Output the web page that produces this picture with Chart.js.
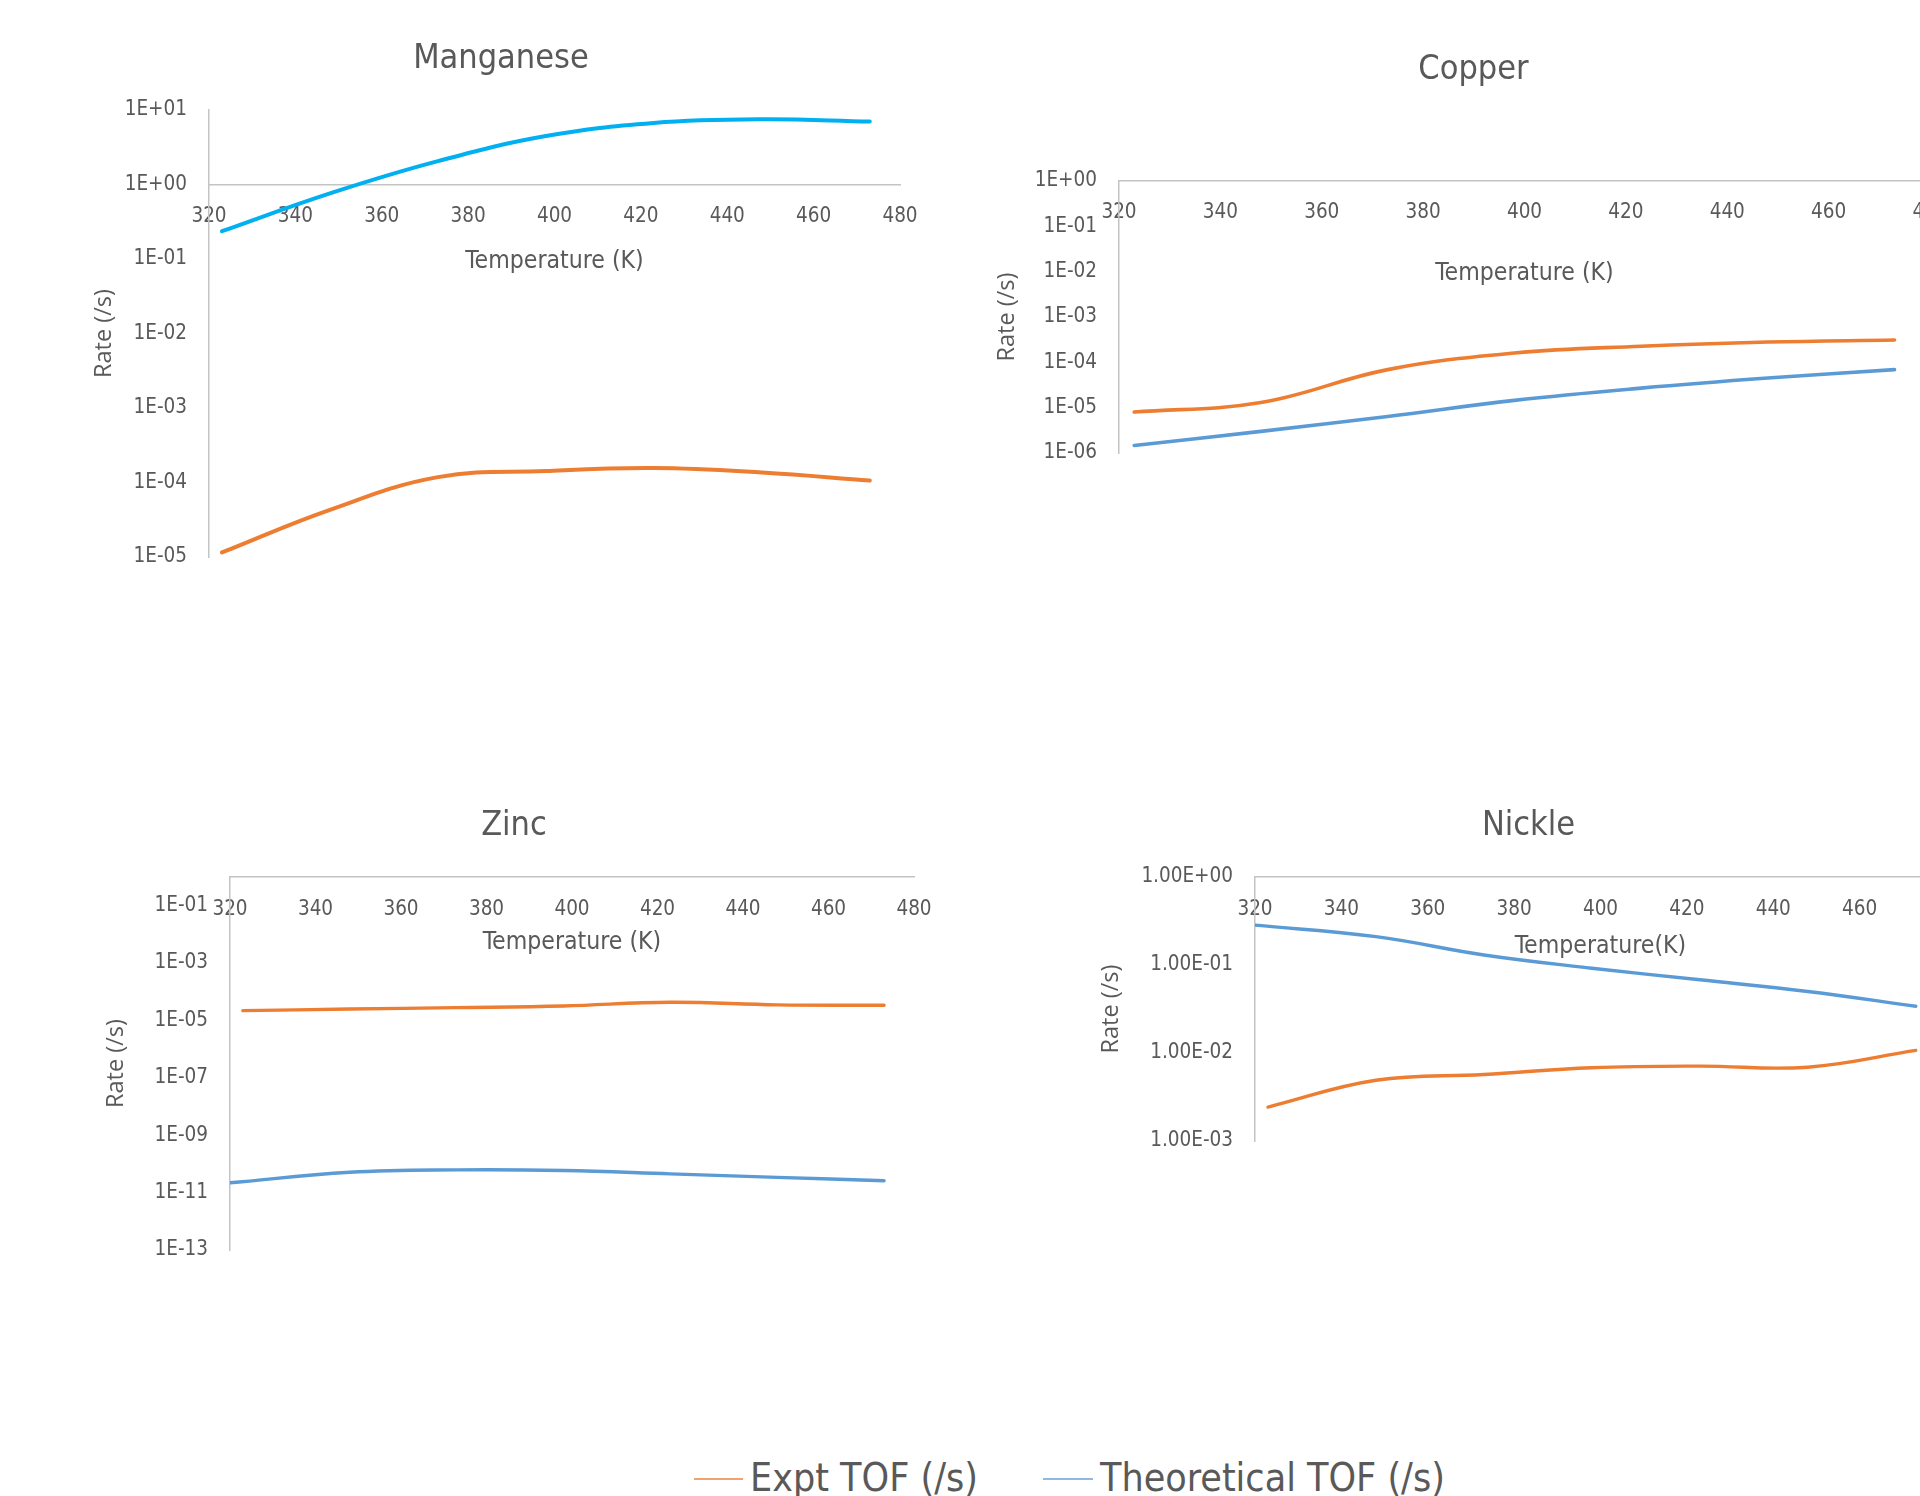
<!DOCTYPE html>
<html>
<head>
<meta charset="utf-8">
<script src="https://cdn.jsdelivr.net/npm/chart.js@4/dist/chart.umd.min.js"></script>
<style>
  html, body { margin: 0; padding: 0; background: #fff; }
  body { width: 1920px; height: 1496px; overflow: hidden; position: relative;
         font-family: "DejaVu Sans Condensed", "Liberation Sans", sans-serif; }
  canvas { position: absolute; }
  .legend { position: absolute; left: 0; top: 1448px; width: 1920px; height: 60px; color: #595959; font-size: 39px; }
  .legend .line { position: absolute; top: 30px; height: 2px; }
  .legend .txt { position: absolute; top: 0; line-height: 60px; white-space: nowrap; }
</style>
</head>
<body>
<canvas id="mn"></canvas>
<canvas id="cu"></canvas>
<canvas id="zn"></canvas>
<canvas id="ni"></canvas>
<div class="legend">
  <span class="line" style="left:694px;width:49px;background:#f1a273"></span>
  <span class="txt" style="left:750px">Expt TOF (/s)</span>
  <span class="line" style="left:1043px;width:50px;background:#8fb9e3"></span>
  <span class="txt" style="left:1100px">Theoretical TOF (/s)</span>
</div>
<script>
// temperatures (K)
const temps = [323, 348, 373, 398, 423, 448, 473];
const theoTempsZnNi = [320, 348, 373, 398, 423, 448, 473];

// rates (/s)
const mnExpt = [1.15e-5, 4.3e-5, 1.18e-4, 1.43e-4, 1.56e-4, 1.36e-4, 1.06e-4];
const mnTheo = [0.236, 0.76, 2.06, 4.47, 6.7, 7.5, 7.0];
const cuExpt = [8.0e-6, 1.3e-5, 6.9e-5, 1.6e-4, 2.26e-4, 2.8e-4, 3.1e-4];
const cuTheo = [1.47e-6, 3.0e-6, 6.4e-6, 1.45e-5, 2.7e-5, 4.5e-5, 6.9e-5];
const znExpt = [2.2e-5, 2.5e-5, 2.8e-5, 3.2e-5, 4.3e-5, 3.5e-5, 3.4e-5];
const znTheo = [2.2e-11, 5.1e-11, 6.2e-11, 5.9e-11, 4.5e-11, 3.4e-11, 2.6e-11];
const niExpt = [2.43e-3, 4.9e-3, 5.7e-3, 6.8e-3, 7.1e-3, 6.9e-3, 1.07e-2];
const niTheo = [0.284, 0.21, 0.13, 0.092, 0.068, 0.050, 0.034];

// y axis ticks
const mnTicks = [1e-5, 1e-4, 1e-3, 1e-2, 1e-1, 1, 10];
const mnTickLabels = ['1E-05', '1E-04', '1E-03', '1E-02', '1E-01', '1E+00', '1E+01'];
const cuTicks = [1e-6, 1e-5, 1e-4, 1e-3, 1e-2, 1e-1, 1];
const cuTickLabels = ['1E-06', '1E-05', '1E-04', '1E-03', '1E-02', '1E-01', '1E+00'];
const znTicks = [1e-13, 1e-11, 1e-9, 1e-7, 1e-5, 1e-3, 1e-1];
const znTickLabels = ['1E-13', '1E-11', '1E-09', '1E-07', '1E-05', '1E-03', '1E-01'];
const niTicks = [1e-3, 1e-2, 1e-1, 1];
const niTickLabels = ['1.00E-03', '1.00E-02', '1.00E-01', '1.00E+00'];

const FONT = '"DejaVu Sans Condensed", "Liberation Sans", sans-serif';
const GREY = '#595959';
const AXIS = '#c4c4c4';
const ORANGE = '#ED7D31';
const BLUE = '#5B9BD5';

// nudges the chart title sideways so it sits where the original one does
const titleShift = {
  id: 'titleShift',
  afterLayout(chart, args, opts) {
    const t = chart.titleBlock;
    if (t && opts.dx) {
      t.left += opts.dx;
      t.right += opts.dx;
    }
  }
};

function makePanel(id, cfg) {
  const cv = document.getElementById(id);
  cv.width = cfg.w;
  cv.height = cfg.h;
  cv.style.left = cfg.x + 'px';
  cv.style.top = cfg.y + 'px';

  const datasets = cfg.series.map(s => ({
    label: s.label,
    data: s.temps.map((t, i) => ({x: t, y: s.values[i]})),
    borderColor: s.color,
    borderWidth: cfg.lineWidth,
    pointRadius: 0,
    tension: 0.4,
    fill: false,
    borderCapStyle: 'round'
  }));

  return new Chart(cv, {
    type: 'line',
    data: {datasets: datasets},
    plugins: [titleShift],
    options: {
      responsive: false,
      animation: false,
      layout: {padding: {left: 0, top: 0, right: 40, bottom: 20}},
      plugins: {
        legend: {display: false},
        tooltip: {enabled: false},
        titleShift: {dx: cfg.titleDx},
        title: {
          display: true,
          text: cfg.title,
          color: GREY,
          font: {family: FONT, size: 34, weight: 'normal'},
          padding: {top: 7.6, bottom: cfg.titleGap}
        }
      },
      scales: {
        x: {
          type: 'linear',
          position: {y: cfg.cross},
          min: 320,
          max: 480,
          grid: {display: false, drawTicks: false},
          border: {display: true, color: AXIS, width: 1.5},
          ticks: {stepSize: 20, color: GREY, font: {family: FONT, size: 20.5}, padding: cfg.xTickPad, maxRotation: 0, autoSkip: false},
          title: {display: true, text: cfg.xTitle, color: GREY, font: {family: FONT, size: 24.6}, padding: 0},
          afterFit: s => {
            s.height = cfg.xTitleOffset + 14.76;
            s.paddingLeft = 0; s.paddingRight = 0; s.paddingTop = 0; s.paddingBottom = 0;
          }
        },
        y: {
          type: 'logarithmic',
          position: 'left',
          min: cfg.yMin,
          max: cfg.yMax,
          grid: {display: false, drawTicks: false},
          border: {display: true, color: AXIS, width: 1.5},
          afterBuildTicks: s => {
            s.ticks = cfg.ticks.map(v => ({value: v}));
          },
          ticks: {
            color: GREY,
            font: {family: FONT, size: 20.5},
            padding: 22,
            autoSkip: false,
            callback: (v, i) => cfg.tickLabels[i]
          },
          title: {display: true, text: 'Rate (/s)', color: GREY, font: {family: '"Open Sans", sans-serif', size: 23.5}, padding: 0},
          afterFit: s => {
            s.width = cfg.yWidth;
            s.paddingTop = 0; s.paddingBottom = 0; s.paddingLeft = 0; s.paddingRight = 0;
          }
        }
      }
    }
  });
}

makePanel('mn', {
  x: 90, y: 31, w: 850, h: 546, titleGap: 30.6, titleDx: 6, yWidth: 119,
  title: 'Manganese', xTitle: 'Temperature (K)', cross: 1, xTickPad: 20, xTitleOffset: 77,
  yMin: 1e-5, yMax: 10, ticks: mnTicks, tickLabels: mnTickLabels, lineWidth: 4,
  series: [
    {label: 'Expt TOF (/s)', temps: temps, values: mnExpt, color: ORANGE},
    {label: 'Theoretical TOF (/s)', temps: temps, values: mnTheo, color: '#00B0F0'}
  ]
});

makePanel('cu', {
  x: 993, y: 42, w: 977, h: 431, titleGap: 90.6, titleDx: 12, yWidth: 126,
  title: 'Copper', xTitle: 'Temperature (K)', cross: 1, xTickPad: 19.5, xTitleOffset: 92.4,
  yMin: 1e-6, yMax: 1, ticks: cuTicks, tickLabels: cuTickLabels, lineWidth: 3.6,
  series: [
    {label: 'Expt TOF (/s)', temps: temps, values: cuExpt, color: ORANGE},
    {label: 'Theoretical TOF (/s)', temps: temps, values: cuTheo, color: BLUE}
  ]
});

makePanel('zn', {
  x: 102, y: 798, w: 852, h: 472, titleGap: 30.6, titleDx: 6, yWidth: 128,
  title: 'Zinc', xTitle: 'Temperature (K)', cross: 1, xTickPad: 20, xTitleOffset: 65.4,
  yMin: 1e-13, yMax: 1, ticks: znTicks, tickLabels: znTickLabels, lineWidth: 3.4,
  series: [
    {label: 'Expt TOF (/s)', temps: temps, values: znExpt, color: ORANGE},
    {label: 'Theoretical TOF (/s)', temps: theoTempsZnNi, values: znTheo, color: BLUE}
  ]
});

makePanel('ni', {
  x: 1097, y: 798, w: 889, h: 363, titleGap: 30.6, titleDx: 7, yWidth: 158,
  title: 'Nickle', xTitle: 'Temperature(K)', cross: 1, xTickPad: 20, xTitleOffset: 69.4,
  yMin: 1e-3, yMax: 1, ticks: niTicks, tickLabels: niTickLabels, lineWidth: 3.4,
  series: [
    {label: 'Expt TOF (/s)', temps: temps, values: niExpt, color: ORANGE},
    {label: 'Theoretical TOF (/s)', temps: theoTempsZnNi, values: niTheo, color: BLUE}
  ]
});
</script>
</body>
</html>
